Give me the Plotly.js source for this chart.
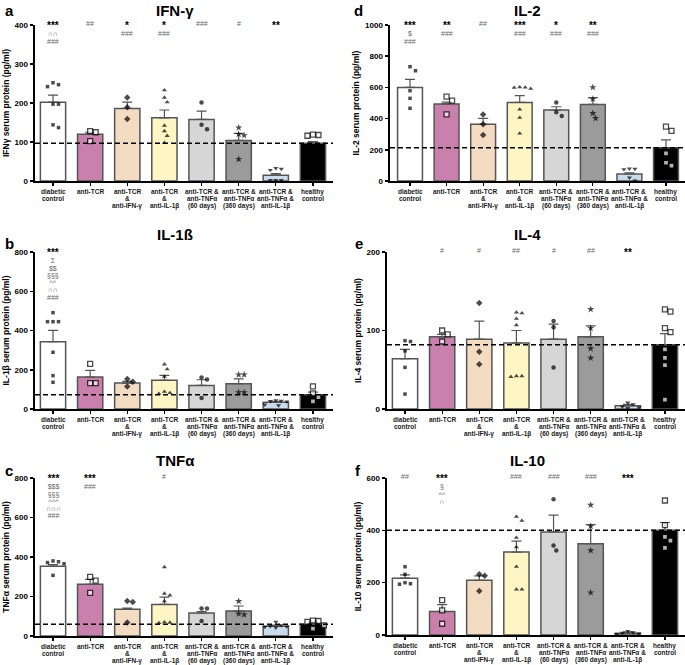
<!DOCTYPE html>
<html>
<head>
<meta charset="utf-8">
<script src="https://cdn.plot.ly/plotly-3.0.1.min.js"></script>
<style>
html,body{margin:0;padding:0;background:#fff;}
#chart{width:685px;height:665px;will-change:opacity;opacity:0.999;}
</style>
</head>
<body>
<div id="chart"></div>
<script>
// ---------------- DATA ----------------
const categories = ["diabetic<br>control", "anti-TCR", "anti-TCR<br>&<br>anti-IFN-γ", "anti-TCR<br>&<br>anti-IL-1β",
  "anti-TCR &<br>anti-TNFα<br>(60 days)", "anti-TCR &<br>anti-TNFα<br>(360 days)", "anti-TCR &<br>anti-TNFα &<br>anti-IL-1β", "healthy<br>control"];

const ifngMean = [202, 120, 186, 162, 158, 104, 15, 97];
const ifngSem  = [18, 5, 16, 20, 21, 18, 4, 4];
const ifngPts  = [[247,242,252,197,197,137,144],[128,125,102],[214,189,159],[233,214,202,142,128,116,98],[201,144,133],[137,120,117,56],[31,28,33,2,2,2],[118,116,119]];

const il1Mean = [343, 163, 132, 146, 120, 129, 34, 73];
const il1Sem  = [58, 34, 9, 25, 29, 24, 5, 13];
const il1Pts  = [[491,445,445,445,289,170,136],[230,132,132],[153,139,115],[228,203,165,88,78,82],[161,150,56],[175,175,85,85],[44,40,42,38,22,18],[115,80,61,39]];

const tnfMean = [353, 262, 135, 160, 116, 127, 49, 59];
const tnfSem  = [8, 25, 6, 37, 8, 25, 6, 11];
const tnfPts  = [[380,376,372,366,307],[299,280,218],[177,172,68],[349,215,206,176,70,68,66],[139,139,76],[176,113,108],[71,54,46,50,42,48],[76,72,78,54,37]];

const il2Mean = [600, 494, 363, 504, 455, 491, 45, 213];
const il2Sem  = [52, 12, 39, 43, 21, 43, 8, 50];
const il2Pts  = [[733,707,579,530,466],[541,515,427],[427,363,295],[600,598,592,601,459,406,305],[504,440,417],[600,526,434,402],[77,75,79,21,3],[348,321,177,117,98]];

const il4Mean = [64, 92, 89, 84, 89, 92, 4, 82];
const il4Sem  = [12, 3, 23, 16, 19, 14, 2, 14];
const il4Pts  = [[87,86,74,53,19],[100,95,86],[135,73,57],[123,122,115,107,42,41,42],[112,104,53],[127,103,77,65],[8,6,2,1,3],[127,124,103,98,76,65,56,12]];

const il10Mean = [217, 90, 209, 317, 394, 349, 7, 400];
const il10Sem  = [13, 26, 17, 42, 64, 73, 5, 30];
const il10Pts  = [[261,232,200,196,194],[133,94,43],[232,226,168],[452,437,372,336,261,174,174],[519,342,323],[497,416,323,162],[15,10,5,2,8],[514,420,375,361,333]];

const sigA = [["***","∩∩","###"],["##"],["*","###"],["*","###"],["###"],["#"],["**"],[]];
const sigB = [["***","Σ","$$","§§§","^^","∩∩","###"],[],[],[],[],[],[],[]];
const sigC = [["***","$$$","§§§","^^^","∩∩∩","###"],["***","###"],[],["#"],[],[],[],[]];
const sigD = [["***","$","###"],["**","###"],["##"],["***","###"],["*","###"],["**","###"],[],[]];
const sigE = [[],["#"],["#"],["##"],["#"],["##"],["**"],[]];
const sigF = [["##"],["***","§","^^","∩"],[],["###"],["###"],["###"],["***"],[]];

const yTicksA = [0,100,200,300,400];
const yTicksB = [0,200,400,600,800];
const yTicksC = [0,200,400,600,800];
const yTicksD = [0,200,400,600,800,1000];
const yTicksE = [0,100,200];
const yTicksF = [0,200,400,600];

// ---------------- STYLE ----------------
const barColors = ["#ffffff","#c980ad","#f3dcc1","#fdf5c4","#d6d6d6","#9b9b9b","#c8dcee","#000000"];
const symbols = ["square","square","diamond","triangle-up","circle","star","triangle-down","square"];
const mSizes  = [3.5, 5, 5, 4.5, 4.5, 5.5, 4.5, 5];
const mFill   = ["#000","#fff","#000","#000","#000","#000","#000","#fff"];
const mLineW  = [0, 1.3, 0, 0, 0, 0, 0, 1.3];

const W = 685, H = 665;
const FONT = "Liberation Sans, Arial, sans-serif";

const panels = [
  {letter:"a", title:"IFN-γ", ytitle:"IFNγ serum protein (pg/ml)", mean:ifngMean, sem:ifngSem, pts:ifngPts, sig:sigA, ticks:yTicksA,
   g:{x0:35, x1:333, yt:25, yb:181, xmin:-0.485, xmax:7.54, tx:175, ty:10, lx:3, ly:10}},
  {letter:"b", title:"IL-1ß", ytitle:"IL-1β serum protein (pg/ml)", mean:il1Mean, sem:il1Sem, pts:il1Pts, sig:sigB, ticks:yTicksB,
   g:{x0:35, x1:333, yt:252, yb:409, xmin:-0.485, xmax:7.54, tx:175, ty:234, lx:3, ly:244}},
  {letter:"c", title:"TNFα", ytitle:"TNFα serum protein (pg/ml)", mean:tnfMean, sem:tnfSem, pts:tnfPts, sig:sigC, ticks:yTicksC,
   g:{x0:35, x1:333, yt:478, yb:636, xmin:-0.485, xmax:7.54, tx:175, ty:461, lx:3, ly:470}},
  {letter:"d", title:"IL-2", ytitle:"IL-2 serum protein (pg/ml)", mean:il2Mean, sem:il2Sem, pts:il2Pts, sig:sigD, ticks:yTicksD,
   g:{x0:390, x1:685, yt:25, yb:181, xmin:-0.547, xmax:7.52, tx:527, ty:10, lx:352, ly:10}},
  {letter:"e", title:"IL-4", ytitle:"IL-4 serum protein (pg/ml)", mean:il4Mean, sem:il4Sem, pts:il4Pts, sig:sigE, ticks:yTicksE,
   g:{x0:387, x1:685, yt:252, yb:409, xmin:-0.485, xmax:7.54, tx:527, ty:234, lx:353, ly:244}},
  {letter:"f", title:"IL-10", ytitle:"IL-10 serum protein (pg/ml)", mean:il10Mean, sem:il10Sem, pts:il10Pts, sig:sigF, ticks:yTicksF,
   g:{x0:387, x1:685, yt:478, yb:635, xmin:-0.485, xmax:7.54, tx:527, ty:461, lx:353, ly:470}}
];

// beeswarm offsets (in x data units) computed from values and axis scale
function swarm(vals, pxPerY, pxPerX, d) {
  const order = vals.map((v,i)=>i).sort((a,b)=>vals[b]-vals[a]);
  const placed = [];
  const off = new Array(vals.length).fill(0);
  const step = d/2;
  for (const i of order) {
    const yp = vals[i]*pxPerY;
    for (let k=0;k<40;k++){
      const n = Math.ceil(k/2);
      const cand = (k%2===1 ? 1 : -1) * n * step;
      let ok = true;
      for (const p of placed){
        const dx = cand-p.x, dy = yp-p.y;
        if (dx*dx+dy*dy < d*d*0.95) { ok=false; break; }
      }
      if (ok){ placed.push({x:cand,y:yp}); off[i]=cand/pxPerX; break; }
    }
  }
  return off;
}

const traces = [];
const layout = {
  width: W, height: H,
  margin: {l:0, r:0, t:0, b:0},
  paper_bgcolor: "#fff", plot_bgcolor: "rgba(0,0,0,0)",
  showlegend: false,
  font: {family: FONT, color: "#000"},
  shapes: [], annotations: []
};

panels.forEach((p, pi) => {
  const n = pi+1;
  const xs = n===1 ? "x" : "x"+n;
  const ys = n===1 ? "y" : "y"+n;
  const xk = n===1 ? "xaxis" : "xaxis"+n;
  const yk = n===1 ? "yaxis" : "yaxis"+n;
  const g = p.g;
  const ymax = p.ticks[p.ticks.length-1];
  const idx = categories.map((c,i)=>i);

  layout[xk] = {
    domain: [g.x0/W, g.x1/W], range: [g.xmin, g.xmax], anchor: ys,
    tickmode: "array", tickvals: idx, ticktext: categories, showticklabels: false,
    ticks: "outside", ticklen: 3, tickwidth: 1.2, tickcolor: "#000",
    showline: true, linewidth: 2, linecolor: "#000",
    showgrid: false, zeroline: false, fixedrange: true, automargin: false
  };
  layout[yk] = {
    domain: [1-g.yb/H, 1-g.yt/H], range: [0, ymax], anchor: xs,
    tickmode: "array", tickvals: p.ticks, ticktext: p.ticks.map(String),
    tickfont: {family: FONT, size: 8, color: "#000", weight: "bold"},
    ticks: "outside", ticklen: 3.5, tickwidth: 1.5, tickcolor: "#000",
    showline: true, linewidth: 2, linecolor: "#000",
    showgrid: false, zeroline: false, fixedrange: true, automargin: false,
    title: {text: p.ytitle, font: {family: FONT, size: 8.5, weight: "bold"}, standoff: 4}
  };

  traces.push({
    type: "bar", x: idx, y: p.mean, xaxis: xs, yaxis: ys, width: 0.68,
    marker: {color: barColors, line: {color: "#555", width: 1.5}},
    error_y: {type: "data", symmetric: false, array: p.sem, arrayminus: p.sem.map(()=>0),
              color: "#555", thickness: 1.2, width: 5},
    hoverinfo: "skip"
  });

  const pxPerY = (g.yb-g.yt)/ymax;
  const pxPerX = (g.x1-g.x0)/(g.xmax-g.xmin);
  const px=[], py=[], sym=[], sz=[], fill=[], lw=[];
  p.pts.forEach((vals, ci) => {
    const off = swarm(vals, pxPerY, pxPerX, 5.5);
    vals.forEach((v, k) => {
      px.push(ci + off[k]); py.push(v);
      sym.push(symbols[ci]); sz.push(mSizes[ci]); fill.push(mFill[ci]); lw.push(mLineW[ci]);
    });
  });
  traces.push({
    type: "scatter", mode: "markers", x: px, y: py, xaxis: xs, yaxis: ys,
    marker: {symbol: sym, size: sz, color: fill, line: {color: "#000", width: lw}},
    hoverinfo: "skip", cliponaxis: false
  });

  layout.shapes.push({
    type: "line", xref: xs+" domain", x0: 0, x1: 1, yref: ys, y0: p.mean[7], y1: p.mean[7],
    line: {color: "#000", width: 1.5, dash: "5px,3px"}, layer: "above"
  });

  // category labels, line by line
  categories.forEach((c, ci) => {
    c.split("<br>").forEach((t, k) => {
      layout.annotations.push({
        xref: xs, yref: "paper", x: ci, y: 1-(g.yb + 10.5 + k*7.2)/H,
        text: t, showarrow: false, xanchor: "center", yanchor: "middle", borderpad: 0,
        font: {family: FONT, size: 6.5, weight: "bold", color: "#1a1a1a"}
      });
    });
  });

  // panel title and letter
  layout.annotations.push({
    xref: "paper", yref: "paper", x: g.tx/W, y: 1-g.ty/H, text: p.title, showarrow: false,
    xanchor: "center", yanchor: "middle", font: {family: FONT, size: 15, weight: "bold", color: "#000"}
  });
  layout.annotations.push({
    xref: "paper", yref: "paper", x: g.lx/W, y: 1-g.ly/H, text: p.letter, showarrow: false,
    xanchor: "left", yanchor: "middle", font: {family: FONT, size: 15, weight: "bold", color: "#000"}
  });

  // significance marks: one stacked text per group
  p.sig.forEach((lines, ci) => {
    if (!lines.length) return;
    const html = lines.map(t => t.indexOf("*") >= 0
      ? '<span style="font-size:10px;font-weight:bold;fill:#000">' + t + '</span>'
      : '<span style="font-size:7px;fill:#666">' + t + '</span>').join("<br>");
    layout.annotations.push({
      xref: xs, yref: ys, x: ci, y: ymax, yshift: 6,
      text: html, showarrow: false, xanchor: "center", yanchor: "top", borderpad: 0,
      font: {family: FONT, size: 5.6, color: "#666"}
    });
  });
});

Plotly.newPlot("chart", traces, layout, {staticPlot: true, displayModeBar: false});
</script>
</body>
</html>
